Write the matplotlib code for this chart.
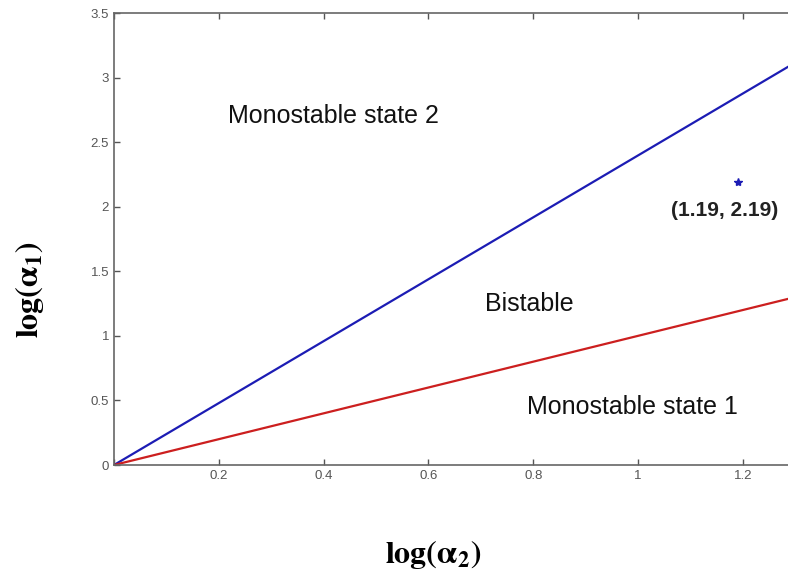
import matplotlib
matplotlib.use("Agg")
import matplotlib.pyplot as plt

# data
x_line = [0.0, 1.31]
blue_line = [0.0, 3.14]
red_line = [0.0, 1.31]
point_x = [1.19]
point_y = [2.19]
xticks = [0, 0.2, 0.4, 0.6, 0.8, 1.0, 1.2]
xticklabels = ["", "0.2", "0.4", "0.6", "0.8", "1", "1.2"]
yticks = [0, 0.5, 1, 1.5, 2, 2.5, 3, 3.5]
yticklabels = ["0", "0.5", "1", "1.5", "2", "2.5", "3", "3.5"]

W, H = 788, 575
fig = plt.figure(figsize=(W/100, H/100), dpi=100)
left, right, bottom, top = 114, 800, 465, 13
ax = fig.add_axes([left/W, 1-bottom/H, (right-left)/W, (bottom-top)/H])
ax.set_xlim(0, (right-left)/524)
ax.set_ylim(0, 3.5)

ax.plot(x_line, blue_line, color="#1c1cb4", lw=1.6, clip_on=True)
ax.plot(x_line, red_line, color="#cc1f1f", lw=1.6, clip_on=True)
ax.plot(point_x, point_y, marker="*", color="#1c1cb4", ms=6, ls="none")

tfont = dict(family="Liberation Sans", fontsize=18, color="#111111")
ax.text(0.418, 2.70, "Monostable state 2", ha="center", va="center", **tfont)
ax.text(0.792, 1.25, "Bistable", ha="center", va="center", **tfont)
ax.text(0.99, 0.45, "Monostable state 1", ha="center", va="center", **tfont)
ax.text(1.166, 1.97, "(1.19, 2.19)", ha="center", va="center", family="Liberation Sans",
        fontsize=15, fontweight="bold", color="#222222")

ax.set_xticks(xticks)
ax.set_xticklabels(xticklabels)
ax.set_yticks(yticks)
ax.set_yticklabels(yticklabels)
ax.tick_params(direction="in", length=4, width=1, color="#555555", labelsize=9.5,
               labelcolor="#555555", top=True, right=False)
for lab in ax.get_xticklabels() + ax.get_yticklabels():
    lab.set_family("Liberation Sans")
for s in ["left", "bottom", "top"]:
    ax.spines[s].set_color("#666666")
    ax.spines[s].set_linewidth(1.2)
ax.spines["right"].set_visible(False)

plt.rcParams["mathtext.fontset"] = "stix"
fig.text(30/W, 1-290/H, r"$\mathbf{log(\alpha_1)}$", rotation=90, ha="center", va="center",
         fontsize=23)
fig.text(433/W, 1-555/H, r"$\mathbf{log(\alpha_2)}$", ha="center", va="center", fontsize=23)

fig.savefig("out.png", dpi=100)
